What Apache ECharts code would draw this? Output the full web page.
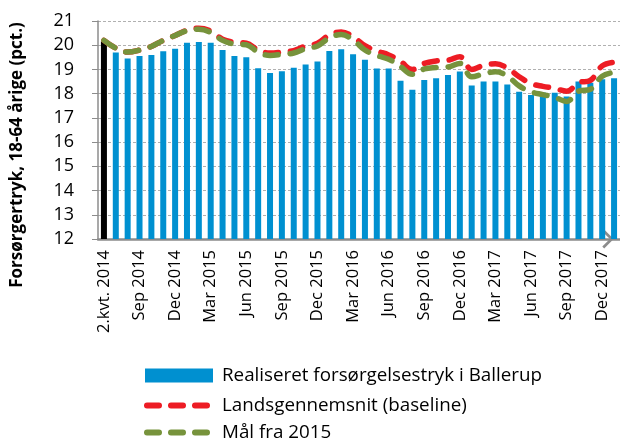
<!DOCTYPE html>
<html>
<head>
<meta charset="utf-8">
<script src="https://cdn.jsdelivr.net/npm/echarts@6/dist/echarts.min.js"></script>
<style>html,body{margin:0;padding:0;background:#fff}#c{width:620px;height:442px}</style>
</head>
<body>
<div id="c"></div>
<script>
var categories = ["2.kvt. 2014","Jul 2014","Aug 2014","Sep 2014","Okt 2014","Nov 2014","Dec 2014",
"Jan 2015","Feb 2015","Mar 2015","Apr 2015","Maj 2015","Jun 2015","Jul 2015","Aug 2015","Sep 2015","Okt 2015","Nov 2015","Dec 2015",
"Jan 2016","Feb 2016","Mar 2016","Apr 2016","Maj 2016","Jun 2016","Jul 2016","Aug 2016","Sep 2016","Okt 2016","Nov 2016","Dec 2016",
"Jan 2017","Feb 2017","Mar 2017","Apr 2017","Maj 2017","Jun 2017","Jul 2017","Aug 2017","Sep 2017","Okt 2017","Nov 2017","Dec 2017",
"Jan 2018"];
var realiseret = [20.15,19.7,19.45,19.55,19.6,19.75,19.85,20.1,20.13,20.1,19.8,19.55,19.5,19.05,18.85,18.93,19.07,19.2,19.33,19.76,19.83,19.63,19.4,19.04,19.04,18.53,18.16,18.56,18.64,18.77,18.92,18.34,18.5,18.5,18.38,18.08,17.94,18.05,18.04,17.88,18.5,18.45,18.6,18.64];
var landsgennemsnit = [20.2,19.88,19.72,19.8,19.95,20.2,20.4,20.62,20.7,20.58,20.25,20.12,20.08,19.8,19.68,19.72,19.78,19.97,20.08,20.42,20.55,20.35,19.98,19.76,19.6,19.33,19.0,19.25,19.35,19.38,19.52,19.0,19.17,19.23,19.06,18.7,18.42,18.3,18.22,18.1,18.45,18.55,19.15,19.3];
var maal = [20.2,19.88,19.72,19.8,19.95,20.2,20.4,20.6,20.66,20.53,20.2,20.05,20.02,19.72,19.58,19.62,19.68,19.86,19.97,20.3,20.44,20.22,19.8,19.58,19.42,19.12,18.8,19.02,19.08,19.1,19.25,18.7,18.82,18.9,18.73,18.32,18.08,17.96,17.85,17.68,18.1,18.18,18.72,18.88];
var seriesNames = ["Realiseret forsørgelsestryk i Ballerup","Landsgennemsnit (baseline)","Mål fra 2015"];
var yTitle = "Forsørgertryk, 18-64 årige (pct.)";

var FONT = "Open Sans";
var dashIcon = 'path://M3,0 H15 A3,3 0 0 1 15,6 H3 A3,3 0 0 1 3,0 Z M27,0 H39 A3,3 0 0 1 39,6 H27 A3,3 0 0 1 27,0 Z M51,0 H63 A3,3 0 0 1 63,6 H51 A3,3 0 0 1 51,0 Z';
var chart = echarts.init(document.getElementById('c'), null, {renderer:'canvas'});
var barData = realiseret.map(function(v,i){
  return i === 0 ? {value:v, itemStyle:{color:'#000000'}} : v;
});
function legendFor(name, top, left, icon, w, h, pad){
  return {
    orient:'vertical', left:left, top:top, padding:0, itemWidth:w, itemHeight:h,
    textStyle:{fontFamily:FONT, fontSize:18.8, color:'#000', padding:[0,0,0,pad]},
    data:[{name:name, icon:icon}]
  };
}
chart.setOption({
  animation:false,
  grid:{left:98, right:-3, top:21, bottom:203},
  graphic:[{
    type:'text', x:17, y:155, rotation:Math.PI/2,
    style:{text:yTitle, font:'bold 17px "'+FONT+'"', fill:'#000', align:'center', verticalAlign:'middle'}
  }],
  legend:[
    legendFor(seriesNames[0], 366, 145, 'rect', 68, 14, 4),
    legendFor(seriesNames[1], 396, 144, dashIcon, 66, 6, 7),
    legendFor(seriesNames[2], 423, 144, dashIcon, 66, 6, 7)
  ],
  xAxis:{
    type:'category', data:categories, boundaryGap:true,
    axisLine:{show:true, lineStyle:{color:'#8c8c8c', width:2.5},
      symbol:['none','path://M0,10 L10,0 L20,10 L18,12 L10,4 L2,12 Z'], symbolSize:[19,17], symbolOffset:[0,-12]},
    axisTick:{show:false},
    axisLabel:{interval:2, rotate:90, margin:11, fontFamily:FONT, fontSize:16.5, color:'#000'},
    splitLine:{show:false}
  },
  yAxis:{
    type:'value', min:12, max:21, interval:1,
    axisLine:{show:true, lineStyle:{color:'#8c8c8c', width:1.5}},
    axisTick:{show:true, length:6, lineStyle:{color:'#8c8c8c'}},
    axisLabel:{margin:24, fontFamily:FONT, fontSize:18, color:'#000'},
    splitLine:{show:true, lineStyle:{color:'#b0b0b0', type:[3,2], width:1}}
  },
  series:[
    {name:seriesNames[0], type:'bar', data:barData, barWidth:6,
     itemStyle:{color:'#0090d0'}},
    {name:seriesNames[1], type:'line', data:landsgennemsnit, smooth:0.4, symbol:'none',
     lineStyle:{color:'#ed1c24', width:5.5, type:[13,12], cap:'round'}, itemStyle:{color:'#ed1c24'}},
    {name:seriesNames[2], type:'line', data:maal, smooth:0.4, symbol:'none',
     lineStyle:{color:'#77933c', width:5.5, type:[13,12], cap:'round'}, itemStyle:{color:'#77933c'}}
  ]
});
</script>
</body>
</html>
